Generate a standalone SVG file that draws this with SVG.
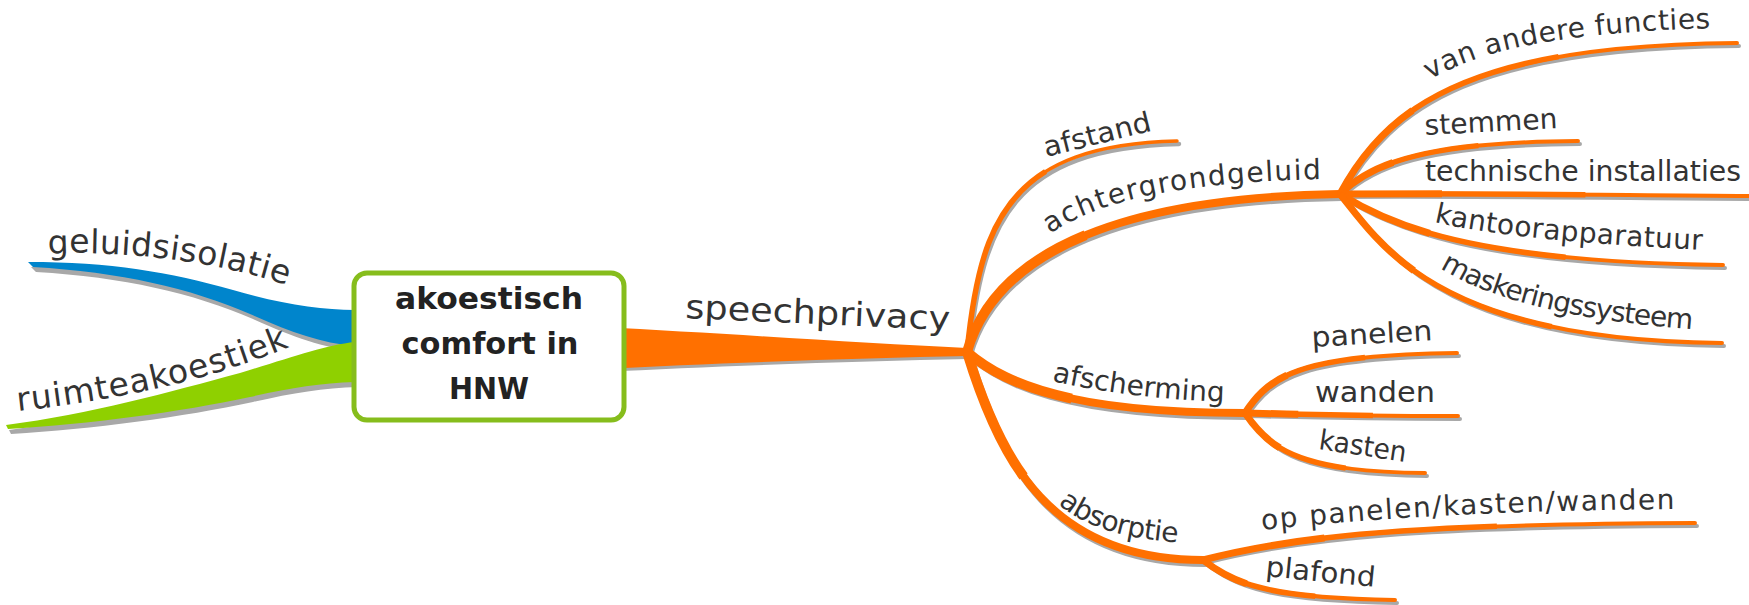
<svg xmlns="http://www.w3.org/2000/svg" xmlns:xlink="http://www.w3.org/1999/xlink" width="1749" height="605" viewBox="0 0 1749 605">
<style>
.br{fill:none;stroke:#ff7000;stroke-linecap:round}
.sh{fill:none;stroke:#a8a8a8;stroke-linecap:round}
.thick{stroke-linecap:butt}
.l2{stroke-width:8}
.l2b{stroke-width:10;stroke-dasharray:40 200}
.lf{stroke-width:4}
.lfb{stroke-width:5.5;stroke-dasharray:60 200}
.lfc{stroke-width:7;stroke-dasharray:25 200}
.t{font-family:"DejaVu Sans",sans-serif;font-size:28px;fill:#333}
.t1{font-family:"DejaVu Sans",sans-serif;font-size:33px;fill:#333}
.tc{font-family:"DejaVu Sans",sans-serif;font-size:30px;font-weight:bold;fill:#222;text-anchor:middle}
</style>
<defs>
<path id="p-afstand" pathLength="100" d="M967,352 C980,220 1010,145 1177,141"/>
<path id="p-achter" pathLength="100" d="M967,352 C990,270 1085,198 1340,194"/>
<path id="p-afscherm" pathLength="100" d="M967,352 C1000,380 1060,413 1245,413"/>
<path id="p-absorp" pathLength="100" d="M967,352 C1000,460 1050,560 1203,560"/>
<path id="p-van" pathLength="100" d="M1340,194 C1390,100 1480,45 1737,43"/>
<path id="p-stem" pathLength="100" d="M1340,194 C1370,165 1420,142 1578,141"/>
<path id="p-tech" pathLength="100" d="M1340,194 C1450,193 1600,195 1749,196"/>
<path id="p-kant" pathLength="100" d="M1340,194 C1390,225 1470,262 1723,265"/>
<path id="p-mask" pathLength="100" d="M1340,194 C1385,250 1440,340 1722,343"/>
<path id="p-pan" pathLength="100" d="M1245,413 C1270,375 1300,355 1457,353"/>
<path id="p-wand" pathLength="100" d="M1245,413 C1320,415 1400,416 1458,416"/>
<path id="p-kast" pathLength="100" d="M1245,413 C1270,450 1300,472 1425,473"/>
<path id="p-oppan" pathLength="100" d="M1203,560 C1300,535 1420,524 1695,523"/>
<path id="p-plaf" pathLength="100" d="M1203,560 C1235,585 1270,598 1395,600"/>
<path id="b-blue" d="M28,262 C110,262 170,272 233,290 C280,304 320,310 355,310 L355,346 C320,343 290,332 250,314 C190,288 120,272 33,267 Z"/>
<path id="b-green" d="M6,425 C90,414 170,392 240,373 C290,358 325,345 355,342 L355,382 C320,383 290,388 250,397 C180,412 90,424 8,429 Z"/>
<path id="b-main" d="M600,327 C720,333 860,343 967,348 L967,356 C860,358 720,363 600,369 Z"/>
<path id="t-geluid" d="M48,254 C130,250 220,262 292,287"/>
<path id="t-ruimte" d="M18,411 C100,402 200,385 296,344"/>
<path id="t-achter" d="M1050,234 C1100,200 1180,182 1325,179"/>
<path id="t-afscherm" d="M1052,381 C1100,392 1160,400 1230,402"/>
<path id="t-absorp" d="M1058,504 C1085,526 1120,539 1185,543"/>
<path id="t-van" d="M1430,80 C1480,50 1560,32 1718,28"/>
<path id="t-kant" d="M1434,222 C1490,235 1580,244 1706,250"/>
<path id="t-mask" d="M1440,268 C1490,300 1580,322 1704,330"/>
<path id="t-oppan" d="M1262,530 C1400,515 1550,510 1678,509"/>
</defs>

<g id="connectors">
  <g id="shadows" transform="translate(2,3)">
    <use href="#b-blue" fill="#a8a8a8" transform="translate(1,2)"/>
    <use href="#b-green" fill="#a8a8a8" transform="translate(1,2)"/>
    <use href="#b-main" fill="#a8a8a8" transform="translate(-1,0)"/>
    <use href="#p-afstand" class="sh" stroke-width="4.5"/>
    <use href="#p-achter" class="sh l2"/>
    <use href="#p-afscherm" class="sh l2"/>
    <use href="#p-absorp" class="sh l2"/>
    <use href="#p-van" class="sh lf"/>
    <use href="#p-stem" class="sh lf"/>
    <use href="#p-tech" class="sh lf"/>
    <use href="#p-kant" class="sh lf"/>
    <use href="#p-mask" class="sh lf"/>
    <use href="#p-pan" class="sh lf"/>
    <use href="#p-wand" class="sh lf"/>
    <use href="#p-kast" class="sh lf"/>
    <use href="#p-oppan" class="sh lf"/>
    <use href="#p-plaf" class="sh lf"/>
  </g>
  <use href="#b-blue" fill="#0085cc"/>
  <use href="#b-green" fill="#8fd000"/>
  <use href="#b-main" fill="#ff7000"/>
  <use href="#p-afstand" class="br" stroke-width="3.5"/>
  <use href="#p-afstand" class="br thick lfb"/>
  <use href="#p-achter" class="br l2"/><use href="#p-achter" class="br thick l2b"/>
  <use href="#p-afscherm" class="br l2"/><use href="#p-afscherm" class="br thick l2b"/>
  <use href="#p-absorp" class="br l2"/><use href="#p-absorp" class="br thick l2b"/>
  <use href="#p-van" class="br lf"/><use href="#p-van" class="br thick lfb"/><use href="#p-van" class="br thick lfc"/>
  <use href="#p-stem" class="br lf"/><use href="#p-stem" class="br thick lfb"/><use href="#p-stem" class="br thick lfc"/>
  <use href="#p-tech" class="br lf"/><use href="#p-tech" class="br thick lfb"/><use href="#p-tech" class="br thick lfc"/>
  <use href="#p-kant" class="br lf"/><use href="#p-kant" class="br thick lfb"/><use href="#p-kant" class="br thick lfc"/>
  <use href="#p-mask" class="br lf"/><use href="#p-mask" class="br thick lfb"/><use href="#p-mask" class="br thick lfc"/>
  <use href="#p-pan" class="br lf"/><use href="#p-pan" class="br thick lfb"/><use href="#p-pan" class="br thick lfc"/>
  <use href="#p-wand" class="br lf"/><use href="#p-wand" class="br thick lfb"/><use href="#p-wand" class="br thick lfc"/>
  <use href="#p-kast" class="br lf"/><use href="#p-kast" class="br thick lfb"/><use href="#p-kast" class="br thick lfc"/>
  <use href="#p-oppan" class="br lf"/><use href="#p-oppan" class="br thick lfb"/><use href="#p-oppan" class="br thick lfc"/>
  <use href="#p-plaf" class="br lf"/><use href="#p-plaf" class="br thick lfb"/><use href="#p-plaf" class="br thick lfc"/>
</g>

<g id="node-center">
  <rect x="354" y="273" width="270" height="147" rx="13" fill="#fff" stroke="#86bd1c" stroke-width="5"/>
  <text class="tc" x="489" y="309" textLength="188" lengthAdjust="spacingAndGlyphs">akoestisch</text>
  <text class="tc" x="490" y="354" textLength="177" lengthAdjust="spacingAndGlyphs">comfort in</text>
  <text class="tc" x="489" y="399" textLength="80" lengthAdjust="spacingAndGlyphs">HNW</text>
</g>
<g id="node-geluidsisolatie"><text class="t1"><textPath href="#t-geluid" textLength="242">geluidsisolatie</textPath></text></g>
<g id="node-ruimteakoestiek"><text class="t1"><textPath href="#t-ruimte" textLength="280">ruimteakoestiek</textPath></text></g>
<g id="node-speechprivacy"><text class="t1" x="685" y="318" transform="rotate(2.6 685 318)" textLength="265" lengthAdjust="spacingAndGlyphs">speechprivacy</text></g>
<g id="node-afstand"><text class="t" x="1046" y="157" transform="rotate(-14 1046 157)" textLength="110" lengthAdjust="spacingAndGlyphs">afstand</text></g>
<g id="node-achtergrondgeluid"><text class="t"><textPath href="#t-achter" textLength="280">achtergrondgeluid</textPath></text></g>
<g id="node-afscherming"><text class="t"><textPath href="#t-afscherm" textLength="174">afscherming</textPath></text></g>
<g id="node-absorptie"><text class="t"><textPath href="#t-absorp" textLength="128">absorptie</textPath></text></g>
<g id="node-van-andere-functies"><text class="t"><textPath href="#t-van" textLength="288">van andere functies</textPath></text></g>
<g id="node-stemmen"><text class="t" x="1425" y="135" transform="rotate(-3 1425 135)" textLength="133" lengthAdjust="spacingAndGlyphs">stemmen</text></g>
<g id="node-technische-installaties"><text class="t" x="1425" y="181" textLength="316" lengthAdjust="spacingAndGlyphs">technische installaties</text></g>
<g id="node-kantoorapparatuur"><text class="t"><textPath href="#t-kant" textLength="270">kantoorapparatuur</textPath></text></g>
<g id="node-maskeringssysteem"><text class="t"><textPath href="#t-mask" textLength="262">maskeringssysteem</textPath></text></g>
<g id="node-panelen"><text class="t" x="1312" y="347" transform="rotate(-3.3 1312 347)" textLength="121" lengthAdjust="spacingAndGlyphs">panelen</text></g>
<g id="node-wanden"><text class="t" x="1315" y="402" textLength="120" lengthAdjust="spacingAndGlyphs">wanden</text></g>
<g id="node-kasten"><text class="t" x="1318" y="449" transform="rotate(8.5 1318 449)" textLength="88" lengthAdjust="spacingAndGlyphs">kasten</text></g>
<g id="node-op-panelen"><text class="t"><textPath href="#t-oppan" textLength="413">op panelen/kasten/wanden</textPath></text></g>
<g id="node-plafond"><text class="t" x="1265" y="576" transform="rotate(5.7 1265 576)" textLength="110" lengthAdjust="spacingAndGlyphs">plafond</text></g>
</svg>
